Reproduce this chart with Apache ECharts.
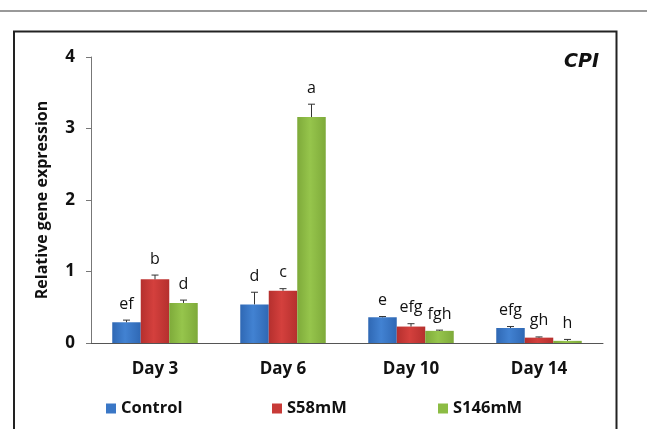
<!DOCTYPE html>
<html>
<head>
<meta charset="utf-8">
<script src="https://cdn.jsdelivr.net/npm/echarts@6/dist/echarts.min.js"></script>
<style>
  html, body { margin: 0; padding: 0; background: #fff; }
  #chart { width: 647px; height: 429px; }
</style>
</head>
<body>
<div id="chart"></div>
<script>
// Days of sampling
const categories = ['Day 3', 'Day 6', 'Day 10', 'Day 14'];
const seriesNames = ['Control', 'S58mM', 'S146mM'];

// Mean relative expression per treatment
const controlValues = [0.29, 0.54, 0.36, 0.21];
const s58Values = [0.89, 0.73, 0.23, 0.075];
const s146Values = [0.56, 3.16, 0.17, 0.03];

// Standard error per treatment
const controlErr = [0.03, 0.17, 0.01, 0.02];
const s58Err = [0.06, 0.03, 0.04, 0.01];
const s146Err = [0.04, 0.18, 0.01, 0.02];

// Significance letters per treatment
const controlLetters = ['ef', 'd', 'e', 'efg'];
const s58Letters = ['b', 'c', 'efg', 'gh'];
const s146Letters = ['d', 'a', 'fgh', 'h'];

const yTicks = [0, 1, 2, 3, 4];

const values = [controlValues, s58Values, s146Values];
const errors = [controlErr, s58Err, s146Err];
const letters = [controlLetters, s58Letters, s146Letters];

const fontFamily = '"Open Sans", "Noto Sans", sans-serif';

function barGradient(dark, light) {
  return new echarts.graphic.LinearGradient(0, 0, 1, 0, [
    { offset: 0, color: dark },
    { offset: 0.45, color: light },
    { offset: 1, color: dark }
  ]);
}
const barColors = [
  barGradient('#2f68b4', '#4282d2'),
  barGradient('#b5302e', '#d4403d'),
  barGradient('#7eaa3a', '#96c54c')
];
const legendColors = ['#3a77c6', '#c83a37', '#8cbc44'];

const BAND_FRACTION = 28.5 / 128;

// Error whiskers and group letters, positioned at each bar's center
function errorSeries(si) {
  return {
    type: 'custom',
    name: seriesNames[si] + ' error',
    z: 5,
    silent: true,
    data: values[si].map((v, i) => [i, v, errors[si][i]]),
    renderItem: function (params, api) {
      const ci = api.value(0);
      const v = api.value(1);
      const e = api.value(2);
      const band = api.size([1, 0])[0];
      const bw = band * BAND_FRACTION;
      const base = api.coord([ci, v]);
      const top = api.coord([ci, v + e]);
      const x = base[0] + (si - 1) * bw;
      const cap = 3.5;
      return {
        type: 'group',
        children: [
          { type: 'line', shape: { x1: x, y1: base[1], x2: x, y2: top[1] },
            style: { stroke: '#333', lineWidth: 1 } },
          { type: 'line', shape: { x1: x - cap, y1: top[1], x2: x + cap, y2: top[1] },
            style: { stroke: '#333', lineWidth: 1 } },
          { type: 'text', x: x, y: top[1] - 8,
            style: { text: letters[si][params.dataIndex], fill: '#111',
                     font: '16px ' + fontFamily, align: 'center', verticalAlign: 'bottom' } }
        ]
      };
    }
  };
}

const chart = echarts.init(document.getElementById('chart'));

const barSeries = seriesNames.map((name, si) => ({
  type: 'bar',
  name: name,
  data: values[si],
  barWidth: 28.5,
  barGap: '0%',
  itemStyle: { color: barColors[si] },
  z: 2
}));

const legendLefts = [106, 272, 438];

chart.setOption({
  animation: false,
  grid: { left: 91, right: 44, top: 57, bottom: 86, containLabel: false },
  legend: seriesNames.map((name, si) => ({
    data: [{ name: name, itemStyle: { color: legendColors[si] } }],
    left: legendLefts[si],
    top: 400,
    padding: 0,
    itemWidth: 10,
    itemHeight: 10,
    itemGap: 5,
    icon: 'rect',
    selectedMode: false,
    textStyle: { fontFamily: fontFamily, fontWeight: 'bold', fontSize: 16.5, color: '#111', padding: [0, 0, 0, 0] }
  })),
  xAxis: {
    type: 'category',
    data: categories,
    axisLine: { lineStyle: { color: '#555', width: 1 } },
    axisTick: { show: false },
    axisLabel: { fontFamily: fontFamily, fontWeight: 'bold', fontSize: 17, color: '#111', margin: 18 }
  },
  yAxis: {
    type: 'value',
    min: yTicks[0],
    max: yTicks[yTicks.length - 1],
    interval: 1,
    name: 'Relative gene expression',
    nameLocation: 'middle',
    nameGap: 41,
    nameTextStyle: { fontFamily: fontFamily, fontWeight: 'bold', fontSize: 16, color: '#111' },
    axisLine: { show: true, lineStyle: { color: '#777', width: 1 } },
    axisTick: { show: true, length: 5, lineStyle: { color: '#777' } },
    splitLine: { show: false },
    axisLabel: { fontFamily: fontFamily, fontWeight: 'bold', fontSize: 17, color: '#111', margin: 16 }
  },
  graphic: [
    { type: 'line', shape: { x1: 0, y1: 11, x2: 647, y2: 11 },
      style: { stroke: '#777', lineWidth: 1.5 } },
    { type: 'polyline', shape: { points: [[14, 432], [14, 31.5], [616.5, 31.5], [616.5, 432]] },
      style: { stroke: '#222', lineWidth: 2, fill: null } },
    { type: 'text', x: 599, y: 62,
      style: { text: 'CPI', font: 'italic bold 19px "DejaVu Sans", sans-serif', fill: '#111',
               align: 'right', verticalAlign: 'middle' } }
  ],
  series: barSeries.concat([errorSeries(0), errorSeries(1), errorSeries(2)])
});
</script>
</body>
</html>
